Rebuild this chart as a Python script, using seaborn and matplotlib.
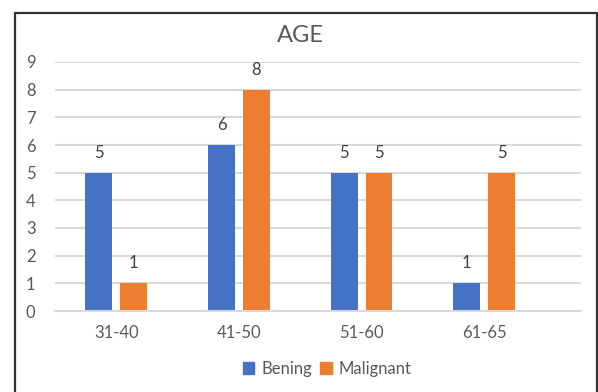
import matplotlib
matplotlib.use("Agg")
import matplotlib.pyplot as plt
import seaborn as sns
import pandas as pd
from matplotlib.patches import Rectangle

# Age groups and case counts per diagnosis
age_groups = ["31-40", "41-50", "51-60", "61-65"]
bening = [5, 6, 5, 1]
malignant = [1, 8, 5, 5]
series_names = ["Bening", "Malignant"]
y_ticks = list(range(0, 10))

colors = ["#4472C4", "#ED7D31"]
text_gray = "#595959"
grid_gray = "#D9D9D9"

sns.set_theme(style="white")
plt.rcParams["font.family"] = ["Lato", "DejaVu Sans"]

df = pd.DataFrame({
    "age": age_groups * 2,
    "count": bening + malignant,
    "type": [series_names[0]] * len(age_groups) + [series_names[1]] * len(age_groups),
})

fig = plt.figure(figsize=(5.98, 3.92), dpi=100)
ax = fig.add_axes([55 / 598, 81 / 392, 526 / 598, 249 / 392])

sns.barplot(data=df, x="age", y="count", hue="type", order=age_groups,
            hue_order=series_names, palette=colors, width=0.57, gap=0.23,
            saturation=1, linewidth=0, ax=ax, legend=False)

ax.set_ylim(0, 9)
ax.set_xlim(-0.5, 3.79)
ax.set_yticks(y_ticks)
ax.set_yticklabels([str(t) for t in y_ticks])
ax.yaxis.grid(True, color=grid_gray, linewidth=1.5)
ax.set_axisbelow(True)
for side in ["top", "right", "left"]:
    ax.spines[side].set_visible(False)
ax.spines["bottom"].set_color(grid_gray)
ax.spines["bottom"].set_linewidth(1.5)
ax.tick_params(axis="both", length=0, colors=text_gray, labelsize=12)
ax.tick_params(axis="y", pad=14)
ax.tick_params(axis="x", pad=10)
ax.set_xlabel("")
ax.set_ylabel("")

# Value labels above each bar
for container in ax.containers:
    for bar in container:
        h = bar.get_height()
        ax.annotate(f"{h:g}", (bar.get_x() + bar.get_width() / 2, h),
                    xytext=(0, 14.5), textcoords="offset points",
                    ha="center", va="center", fontsize=12, color="#404040")

fig.text(300 / 598, 1 - 35 / 392, "AGE", ha="center", va="center",
         fontsize=17, color=text_gray)

handles = [Rectangle((0, 0), 1, 1, color=c) for c in colors]
fig.legend(handles, series_names, loc="center", bbox_to_anchor=(327 / 598, 1 - 369 / 392),
           ncol=2, frameon=False, fontsize=12, handlelength=0.7, handleheight=0.7,
           handletextpad=0.4, columnspacing=0.5, labelcolor=text_gray)

# Chart frame
fig.patches.append(Rectangle((15 / 598, -0.1), 582 / 598, 1.1 - 13 / 392,
                             transform=fig.transFigure, fill=False,
                             edgecolor="#333333", linewidth=1.6))

fig.savefig("out.png", dpi=100)
